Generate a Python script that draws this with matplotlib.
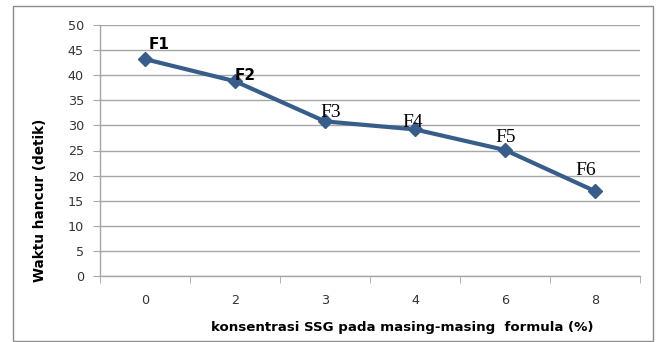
import matplotlib.pyplot as plt
from matplotlib.patches import Rectangle

# konsentrasi SSG (%) dan waktu hancur tablet (detik)
konsentrasi = ['0', '2', '3', '4', '6', '8']
waktu_hancur = [43.2, 38.8, 30.8, 29.2, 25.1, 16.9]
formula = ['F1', 'F2', 'F3', 'F4', 'F5', 'F6']

# label offsets (points) and fonts for each formula tag
label_offset = [(10, 7), (7, 1), (4, 3.5), (-2, 2), (0.7, 6), (-7, 11.5)]
label_font = [dict(family='DejaVu Sans', weight='bold', size=11),
              dict(family='DejaVu Sans', weight='bold', size=11)] + \
             [dict(family='Liberation Serif', size=14)] * 4

line_col = '#385d8a'
grid_col = '#a6a6a6'

fig = plt.figure(figsize=(6.58, 3.42), dpi=100)
ax = fig.add_axes([100 / 658, 1 - 276 / 342, 540 / 658, 251 / 342])

x = list(range(len(konsentrasi)))
ax.plot(x, waktu_hancur, color=line_col, lw=3, marker='D', ms=7.5,
        mfc=line_col, mec=line_col, zorder=3)

for xi, yi, lab, off, fnt in zip(x, waktu_hancur, formula, label_offset, label_font):
    ax.annotate(lab, (xi, yi), xytext=off, textcoords='offset points',
                ha='center', va='baseline', color='black', zorder=4, **fnt)

ax.set_ylim(0, 50)
ax.set_yticks(range(0, 51, 5))
ax.set_xlim(-0.5, len(x) - 0.5)
ax.set_xticks(x)
ax.set_xticklabels(konsentrasi)
ax.set_xticks([i - 0.5 for i in range(len(x) + 1)], minor=True)

ax.yaxis.grid(True, color=grid_col, lw=1)
ax.set_axisbelow(True)
for s in ['top', 'right']:
    ax.spines[s].set_visible(False)
for s in ['left', 'bottom']:
    ax.spines[s].set_color(grid_col)
    ax.spines[s].set_linewidth(1)

ax.tick_params(axis='y', length=5, color=grid_col, pad=6.5,
               labelsize=9.2, labelcolor='#333333')
ax.tick_params(axis='x', which='major', length=0, pad=13,
               labelsize=9.2, labelcolor='#333333')
ax.tick_params(axis='x', which='minor', length=5, color=grid_col)

fig.text(40 / 658, 1 - 200 / 342, 'Waktu hancur (detik)', rotation=90,
         ha='center', va='center', fontsize=9.8, fontweight='bold')
fig.text(402 / 658, 1 - 328 / 342, 'konsentrasi SSG pada masing-masing  formula (%)',
         ha='center', va='center', fontsize=9.6, fontweight='bold')

# chart border
fig.patches.append(Rectangle((13 / 658, 1 - 341 / 342), 640 / 658, 335 / 342,
                             transform=fig.transFigure, fill=False,
                             edgecolor='#8c8c8c', lw=1))

fig.savefig('out.png', dpi=100)
